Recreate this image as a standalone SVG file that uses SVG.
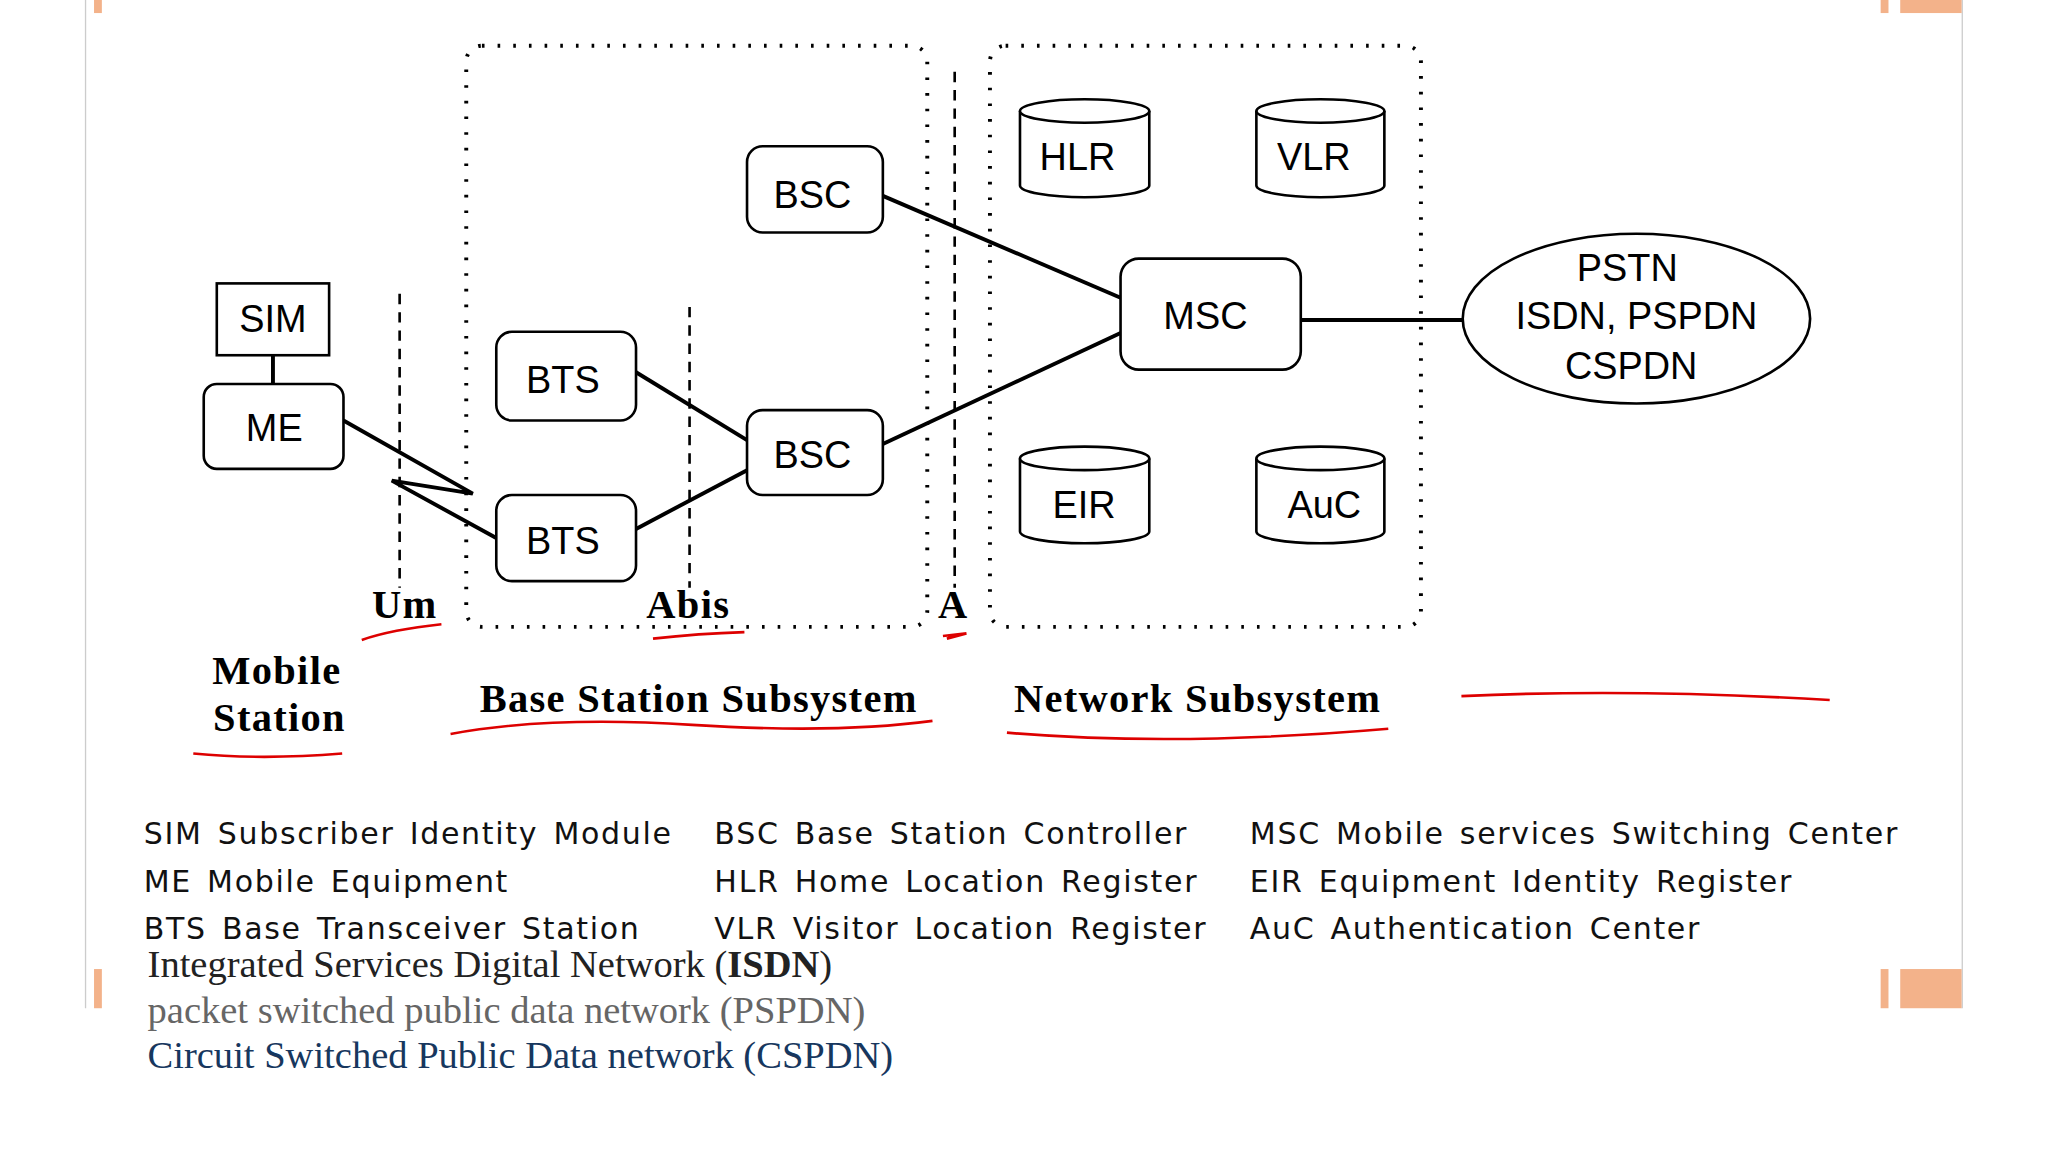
<svg xmlns="http://www.w3.org/2000/svg" width="2048" height="1152" viewBox="0 0 2048 1152">
<style>
.box{fill:#fff;stroke:#000;stroke-width:2}
.ln{stroke:#000;stroke-width:3;fill:none}
.dot{fill:none;stroke:#000;stroke-width:3;stroke-dasharray:2 10}
.dash{stroke:#000;stroke-width:2;stroke-dasharray:8 6}
.t{font-family:"Liberation Sans",Arial,sans-serif;font-size:29px;text-anchor:middle;fill:#000}
.b{font-family:"Liberation Serif",serif;font-size:31px;font-weight:bold;text-anchor:middle;letter-spacing:1px}
.lg{font-family:"DejaVu Sans",sans-serif;font-size:23px;fill:#111;letter-spacing:1.3px;word-spacing:3px}
.ft{font-family:"Liberation Serif",serif;font-size:29.5px}
.red{stroke:#d00;stroke-width:2;fill:none}
</style>
<rect width="2048" height="1152" fill="#fff"/>
<g transform="scale(1.306)">
<g id="frame">
<line x1="65.5" y1="0" x2="65.5" y2="772" stroke="#ccc"/>
<line x1="1502.5" y1="0" x2="1502.5" y2="772" stroke="#ccc"/>
<rect x="72" y="0" width="6" height="10" fill="#f3b28a"/>
<rect x="1440" y="0" width="6" height="10" fill="#f3b28a"/>
<rect x="1455" y="0" width="47" height="10" fill="#f3b28a"/>
<rect x="72" y="742" width="6" height="30" fill="#f3b28a"/>
<rect x="1440" y="742" width="6" height="30" fill="#f3b28a"/>
<rect x="1455" y="742" width="47" height="30" fill="#f3b28a"/>
</g>
<g id="regions">
<rect class="dot" x="357" y="35" width="353" height="445" rx="12"/>
<rect class="dot" x="758" y="35" width="330" height="445" rx="12"/>
<line class="dash" x1="306" y1="225" x2="306" y2="450"/>
<line class="dash" x1="528" y1="235" x2="528" y2="450"/>
<line class="dash" x1="731" y1="55" x2="731" y2="450"/>
</g>
<g id="connectors">
<line class="ln" x1="209" y1="272" x2="209" y2="294"/>
<line class="ln" x1="487" y1="285" x2="572" y2="337"/>
<line class="ln" x1="487" y1="405" x2="572" y2="360"/>
<line class="ln" x1="676" y1="150" x2="858" y2="228"/>
<line class="ln" x1="676" y1="340" x2="858" y2="255"/>
<line class="ln" x1="996" y1="245" x2="1121" y2="245"/>
<path class="ln" d="M263,322 L362,378 L300,368 L380,412"/>
</g>
<g id="SIM"><rect class="box" x="166" y="217" width="86" height="55"/><text class="t" x="209" y="254">SIM</text></g>
<g id="ME"><rect class="box" x="156" y="294" width="107" height="65" rx="10"/><text class="t" x="210" y="338">ME</text></g>
<g id="BTS1"><rect class="box" x="380" y="254" width="107" height="68" rx="12"/><text class="t" x="431" y="301">BTS</text></g>
<g id="BTS2"><rect class="box" x="380" y="379" width="107" height="66" rx="12"/><text class="t" x="431" y="424">BTS</text></g>
<g id="BSC1"><rect class="box" x="572" y="112" width="104" height="66" rx="12"/><text class="t" x="622" y="159">BSC</text></g>
<g id="BSC2"><rect class="box" x="572" y="314" width="104" height="65" rx="12"/><text class="t" x="622" y="358">BSC</text></g>
<g id="MSC"><rect class="box" x="858" y="198" width="138" height="85" rx="14"/><text class="t" x="923" y="252">MSC</text></g>
<g id="HLR"><path class="box" d="M781,85 V142 A49.5,9 0 0 0 880,142 V85"/><ellipse class="box" cx="830.5" cy="85" rx="49.5" ry="9"/><text class="t" x="825" y="130">HLR</text></g>
<g id="VLR"><path class="box" d="M962,85 V142 A49,9 0 0 0 1060,142 V85"/><ellipse class="box" cx="1011" cy="85" rx="49" ry="9"/><text class="t" x="1006" y="130">VLR</text></g>
<g id="EIR"><path class="box" d="M781,351 V407 A49.5,9 0 0 0 880,407 V351"/><ellipse class="box" cx="830.5" cy="351" rx="49.5" ry="9"/><text class="t" x="830" y="397">EIR</text></g>
<g id="AuC"><path class="box" d="M962,351 V407 A49,9 0 0 0 1060,407 V351"/><ellipse class="box" cx="1011" cy="351" rx="49" ry="9"/><text class="t" x="1014" y="397">AuC</text></g>
<g id="PSTN"><ellipse class="box" cx="1253" cy="244" rx="133" ry="65"/><text class="t" x="1246" y="215">PSTN</text><text class="t" x="1253" y="252">ISDN, PSPDN</text><text class="t" x="1249" y="290">CSPDN</text></g>
<g id="labels">
<text class="b" x="310" y="473">Um</text>
<text class="b" x="527" y="473">Abis</text>
<text class="b" x="730" y="473">A</text>
<text class="b" x="212" y="524">Mobile</text>
<text class="b" x="214" y="560">Station</text>
<text class="b" x="535" y="545">Base Station  Subsystem</text>
<text class="b" x="917" y="545">Network Subsystem</text>
</g>
<g id="ink">
<path class="red" d="M277,490 Q300,482 338,478"/>
<path class="red" d="M500,489 Q535,485 570,484"/>
<path class="red" d="M722,487 L740,485 L725,489"/>
<path class="red" d="M148,577 Q200,582 262,577"/>
<path class="red" d="M345,562 Q420,548 530,555 Q640,562 714,552"/>
<path class="red" d="M771,561 Q900,572 1063,558"/>
<path class="red" d="M1119,533 Q1250,527 1401,536"/>
</g>
<g id="legend" class="lg">
<text x="110" y="646">SIM  Subscriber Identity Module</text>
<text x="110" y="683">ME  Mobile Equipment</text>
<text x="110" y="719">BTS  Base Transceiver Station</text>
<text x="547" y="646">BSC  Base Station Controller</text>
<text x="547" y="683">HLR  Home Location Register</text>
<text x="547" y="719">VLR  Visitor Location Register</text>
<text x="957" y="646">MSC  Mobile services Switching Center</text>
<text x="957" y="683">EIR  Equipment Identity Register</text>
<text x="957" y="719">AuC  Authentication Center</text>
</g>
<g id="footer" class="ft">
<text x="113" y="748" fill="#222">Integrated Services Digital Network (<tspan font-weight="bold">ISDN</tspan>)</text>
<text x="113" y="783" fill="#666">packet switched public data network (PSPDN)</text>
<text x="113" y="818" fill="#17375e">Circuit Switched Public Data network (CSPDN)</text>
</g>
</g>
</svg>
